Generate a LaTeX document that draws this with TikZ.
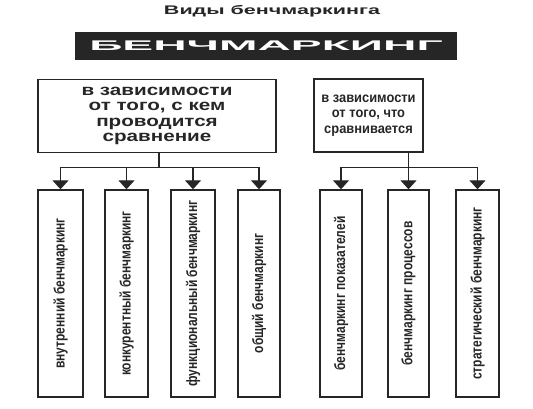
\documentclass[tikz,border=0pt]{standalone}
\usepackage{fontspec}
\setmainfont{Liberation Sans}
\newfontfamily\headfont{Liberation Sans}[FakeStretch=1.72]
\newfontfamily\barfont{Liberation Sans}[FakeStretch=3.3]
\newfontfamily\widefont{Liberation Sans}[FakeStretch=1.33]
\newfontfamily\boxfont{Liberation Sans}[FakeStretch=0.92]
\newfontfamily\leaffont{Liberation Sans}[FakeStretch=0.8]
\usetikzlibrary{arrows.meta,positioning}
\definecolor{ink}{HTML}{262626}
\tikzset{
  line/.style={-{Triangle[width=16pt,length=9pt]}, line width=1.2pt, draw=ink},
  stem/.style={line width=1.2pt, draw=ink},
  box/.style={draw=ink, line width=1.4pt, align=center, inner sep=0pt, text=ink},
  topbox/.style={box, minimum height=73pt},
  leafbox/.style={box, minimum width=43pt, minimum height=207pt,
    font=\leaffont\bfseries\fontsize{15}{17}\selectfont}
}

\begin{document}
\begin{tikzpicture}[x=1pt, y=-1pt]
  \useasboundingbox (0,0) rectangle (533,408);
  \node[text=ink, font=\headfont\bfseries\fontsize{12.5}{14}\selectfont] (title) at (272,11) {Виды бенчмаркинга};
  \node[fill=ink, text=white, inner sep=0pt, minimum width=382pt, minimum height=28pt,
    font=\barfont\bfseries\fontsize{14}{15}\selectfont] (bench) at (266,46) {БЕНЧМАРКИНГ};
  % criteria
  \node[topbox, minimum width=238pt, font=\widefont\bfseries\fontsize{15.5}{15.2}\selectfont] (byWhom) at (157,116)
    {в зависимости\\от того, с кем\\проводится\\сравнение};
  \node[topbox, minimum width=109pt, font=\boxfont\bfseries\fontsize{14}{15.5}\selectfont] (byWhat) at (368.5,115.5)
    {в зависимости\\от того, что\\сравнивается};
  % kinds
  \node[leafbox, minimum width=45pt] (t1) at (60.5,293.5) {\rotatebox{90}{внутренний бенчмаркинг}};
  \node[leafbox] (t2) at (126.5,293.5) {\rotatebox{90}{конкурентный бенчмаркинг}};
  \node[leafbox, minimum width=44pt] (t3) at (193,293.5) {\rotatebox{90}{функциональный бенчмаркинг}};
  \node[leafbox, minimum width=42pt] (t4) at (259,293.5) {\rotatebox{90}{общий бенчмаркинг}};
  \node[leafbox, minimum width=42pt] (t5) at (341,293.5) {\rotatebox{90}{бенчмаркинг показателей}};
  \node[leafbox, minimum width=41pt] (t6) at (408.5,293.5) {\rotatebox{90}{бенчмаркинг процессов}};
  \node[leafbox] (t7) at (477.5,293.5) {\rotatebox{90}{стратегический бенчмаркинг}};
  % connectors
  \draw[stem] (byWhom.south) ++(2,0) -- ++(0,14) coordinate (busL);
  \draw[line] (busL) -| (t1.north);
  \draw[line] (busL) -| (t2.north);
  \draw[line] (busL) -| (t3.north);
  \draw[line] (busL) -| (t4.north);
  \draw[stem] (byWhat.south -| t6.north) -- ++(0,15) coordinate (busR);
  \draw[line] (busR) -| (t5.north);
  \draw[line] (busR) -- (t6.north);
  \draw[line] (busR) -| (t7.north);
\end{tikzpicture}
\end{document}
